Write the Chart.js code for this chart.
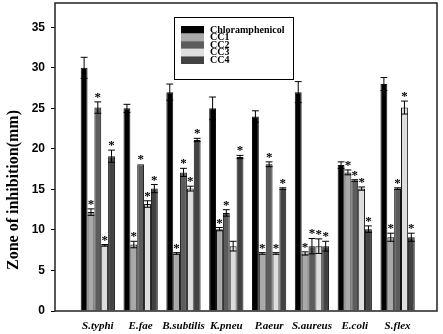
<!DOCTYPE html>
<html>
<head>
<meta charset="utf-8">
<script src="https://cdn.jsdelivr.net/npm/chart.js@4/dist/chart.umd.min.js"></script>
<style>
  body { margin: 0; background: #fff; }
  #wrap { width: 443px; height: 334px; position: relative; }
</style>
</head>
<body>
<div id="wrap"><canvas id="grafik"></canvas></div>
<script>
// kategori bakteri
var kategori = ['S.typhi', 'E.fae', 'B.subtilis', 'K.pneu', 'P.aeur', 'S.aureus', 'E.coli', 'S.flex'];
var namaSeri = ['Chloramphenicol', 'CC1', 'CC2', 'CC3', 'CC4'];

// zona hambat (mm)
var chl = [30, 25, 27, 25, 24, 27, 18, 28];
var cc1 = [12.2, 8.2, 7.1, 10.1, 7.1, 7.1, 17.1, 9.1];
var cc2 = [25.1, 18.1, 17.1, 12.1, 18.1, 8, 16.1, 15.1];
var cc3 = [8.1, 13.2, 15.1, 8, 7.1, 8, 15.1, 25.1];
var cc4 = [19.1, 15.1, 21.1, 19, 15.1, 8, 10.1, 9.1];

// error (SD)
var chlErr = [1.3, 0.5, 1.0, 1.4, 0.7, 1.3, 0.4, 0.8];
var cc1Err = [0.4, 0.4, 0.1, 0.2, 0.1, 0.2, 0.3, 0.5];
var cc2Err = [0.7, 0, 0.5, 0.4, 0.3, 0.95, 0.1, 0.1];
var cc3Err = [0.1, 0.4, 0.3, 0.6, 0.1, 0.9, 0.2, 0.8];
var cc4Err = [0.75, 0.5, 0.2, 0.2, 0.1, 0.6, 0.4, 0.5];

// tanda signifikan (*)
var chlSig = [0, 0, 0, 0, 0, 0, 0, 0];
var cc1Sig = [1, 1, 1, 1, 1, 1, 1, 1];
var cc2Sig = [1, 1, 1, 1, 1, 1, 1, 1];
var cc3Sig = [1, 1, 1, 0, 1, 1, 1, 1];
var cc4Sig = [1, 1, 1, 1, 1, 1, 1, 1];

var yTicks = [0, 5, 10, 15, 20, 25, 30, 35];

var nilai = [chl, cc1, cc2, cc3, cc4];
var galat = [chlErr, cc1Err, cc2Err, cc3Err, cc4Err];
var tanda = [chlSig, cc1Sig, cc2Sig, cc3Sig, cc4Sig];
var warna = ['#000000', '#a9a9a9', '#5c5c5c', '#dedede', '#424242'];

var datasets = namaSeri.map(function (nama, s) {
    return {
        label: nama,
        data: nilai[s].map(function (v, i) { return { x: i, y: v }; }),
        backgroundColor: warna[s],
        borderColor: '#111',
        borderWidth: 1,
        err: galat[s],
        sig: tanda[s]
    };
});

var serif = "'Liberation Serif', 'Times New Roman', serif";

// error bar + bintang
var errorBars = {
    id: 'errorBars',
    afterDatasetsDraw: function (chart) {
        var ctx = chart.ctx;
        var y = chart.scales.y;
        chart.data.datasets.forEach(function (ds, s) {
            var meta = chart.getDatasetMeta(s);
            meta.data.forEach(function (bar, i) {
                var v = nilai[s][i];
                var e = ds.err[i];
                var x = bar.x;
                var half = bar.width / 2;
                var top = y.getPixelForValue(v + e);
                var bot = y.getPixelForValue(v - e);
                ctx.save();
                ctx.strokeStyle = '#000';
                ctx.lineWidth = 1;
                if (e > 0) {
                    ctx.beginPath();
                    ctx.moveTo(x, top); ctx.lineTo(x, bot);
                    ctx.moveTo(x - half, top); ctx.lineTo(x + half, top);
                    ctx.moveTo(x - half, bot); ctx.lineTo(x + half, bot);
                    ctx.stroke();
                }
                if (ds.sig[i]) {
                    ctx.fillStyle = '#000';
                    ctx.font = 'bold 13px ' + serif;
                    ctx.textAlign = 'center';
                    ctx.textBaseline = 'alphabetic';
                    ctx.fillText('*', x, top - 1);
                }
                ctx.restore();
            });
        });
    }
};

// legenda di dalam area grafik
var legendaDalam = {
    id: 'legendaDalam',
    afterDatasetsDraw: function (chart) {
        var ctx = chart.ctx;
        var a = chart.chartArea;
        var bx = a.left + 119, by = a.top + 14, bw = 119, bh = 62;
        ctx.save();
        ctx.fillStyle = '#fff';
        ctx.fillRect(bx, by, bw, bh);
        ctx.strokeStyle = '#000';
        ctx.lineWidth = 1;
        ctx.strokeRect(bx + 0.5, by + 0.5, bw, bh);
        ctx.font = 'bold 10px ' + serif;
        ctx.textBaseline = 'middle';
        chart.data.datasets.forEach(function (ds, s) {
            var ry = by + 9 + s * 7.6;
            ctx.fillStyle = ds.backgroundColor;
            ctx.fillRect(bx + 7, ry, 23, 7.6);
            ctx.fillStyle = '#000';
            ctx.fillText(ds.label, bx + 36, ry + 4);
        });
        ctx.restore();
    }
};

// bingkai + judul sumbu y
var bingkai = {
    id: 'bingkai',
    afterDraw: function (chart) {
        var ctx = chart.ctx;
        var a = chart.chartArea;
        ctx.save();
        ctx.strokeStyle = '#222';
        ctx.lineWidth = 1.5;
        ctx.strokeRect(a.left, a.top, a.right - a.left, a.bottom - a.top);
        ctx.translate(14, 190);
        ctx.rotate(-Math.PI / 2);
        ctx.fillStyle = '#000';
        ctx.font = 'bold 16px ' + serif;
        ctx.textAlign = 'center';
        ctx.textBaseline = 'middle';
        ctx.fillText('Zone of inhibition(mm)', 0, 0);
        ctx.restore();
    }
};

var config = {
    type: 'bar',
    data: { datasets: datasets },
    options: {
        responsive: true,
        maintainAspectRatio: false,
        animation: false,
        layout: { padding: { top: 3, right: 6, left: 0, bottom: 0 } },
        datasets: { bar: { categoryPercentage: 0.8, barPercentage: 1.0 } },
        plugins: { legend: { display: false }, tooltip: { enabled: false } },
        scales: {
            x: {
                type: 'linear',
                offset: false,
                min: -1,
                max: 7.92,
                afterBuildTicks: function (s) {
                    s.ticks = s.ticks.filter(function (t) { return Number.isInteger(t.value); });
                },
                afterFit: function (s) {
                    s.height = 23;
                    s.paddingLeft = 0; s.paddingRight = 0;
                },
                grid: { display: false },
                border: { display: false },
                ticks: {
                    stepSize: 1,
                    autoSkip: false,
                    maxRotation: 0,
                    padding: 1,
                    color: '#000',
                    font: { family: serif, size: 11, weight: 'bold', style: 'italic' },
                    callback: function (v) { return kategori[v] || ''; }
                }
            },
            y: {
                min: 0,
                max: 38,
                afterFit: function (s) {
                    s.width = 55;
                    s.paddingTop = 0; s.paddingBottom = 0;
                },
                afterBuildTicks: function (s) {
                    s.ticks = yTicks.map(function (v) { return { value: v }; });
                },
                grid: { drawOnChartArea: false, drawTicks: true, tickLength: 4, color: '#000' },
                border: { display: false },
                ticks: {
                    padding: 6,
                    color: '#000',
                    font: { family: "'Liberation Sans', Arial, sans-serif", size: 12, weight: 'bold' }
                }
            }
        }
    },
    plugins: [errorBars, legendaDalam, bingkai]
};

var grafik = new Chart(document.getElementById('grafik'), config);
</script>
</body>
</html>
